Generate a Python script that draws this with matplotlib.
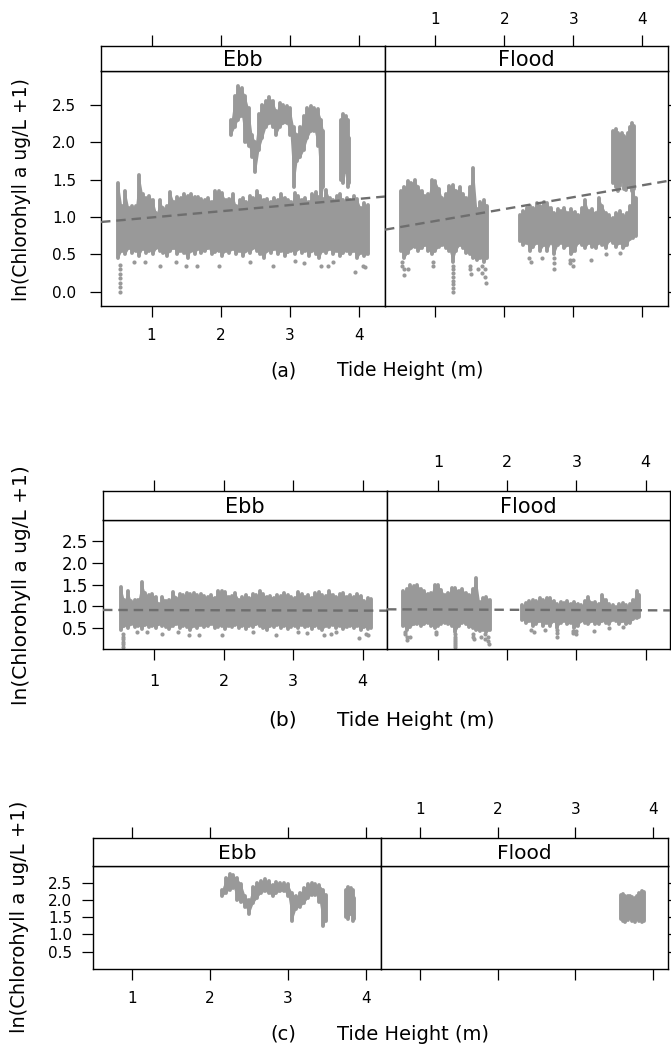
import numpy as np
import matplotlib
matplotlib.use("Agg")
import matplotlib.pyplot as plt

# ---- data ----
# ebb, low chlorophyll band (panels a and b)
ebb_low_x = [0.52, 0.57, 0.62, 0.67, 0.72, 0.77, 0.82, 0.87, 0.92, 0.97,
             1.02, 1.07, 1.12, 1.17, 1.22, 1.27, 1.32, 1.37, 1.42, 1.47,
             1.52, 1.57, 1.62, 1.67, 1.72, 1.77, 1.82, 1.87, 1.92, 1.97,
             2.02, 2.07, 2.12, 2.17, 2.22, 2.27, 2.32, 2.37, 2.42, 2.47,
             2.52, 2.57, 2.62, 2.67, 2.72, 2.77, 2.82, 2.87, 2.92, 2.97,
             3.02, 3.07, 3.12, 3.17, 3.22, 3.27, 3.32, 3.37, 3.42, 3.47,
             3.52, 3.57, 3.62, 3.67, 3.72, 3.77, 3.82, 3.87, 3.92, 3.97,
             4.02, 4.07, 4.12]
ebb_low_hi = [1.45, 1.14, 1.34, 1.12, 1.14, 1.15, 1.56, 1.30, 1.25, 1.28,
              1.22, 1.05, 1.22, 1.12, 1.14, 1.33, 1.20, 1.27, 1.25, 1.30,
              1.28, 1.30, 1.26, 1.27, 1.24, 1.22, 1.25, 1.20, 1.35, 1.34,
              1.32, 1.22, 1.24, 1.30, 1.15, 1.22, 1.25, 1.20, 1.28, 1.25,
              1.35, 1.28, 1.22, 1.24, 1.20, 1.25, 1.23, 1.30, 1.25, 1.22,
              1.20, 1.32, 1.28, 1.22, 1.25, 1.20, 1.30, 1.33, 1.26, 1.24,
              1.36, 1.25, 1.22, 1.28, 1.30, 1.22, 1.25, 1.22, 1.28, 1.24,
              1.12, 1.18, 1.16]
ebb_low_lo = [0.45, 0.55, 0.50, 0.58, 0.52, 0.55, 0.48, 0.57, 0.52, 0.55,
              0.50, 0.58, 0.55, 0.52, 0.48, 0.55, 0.58, 0.50, 0.55, 0.52,
              0.45, 0.55, 0.50, 0.57, 0.52, 0.55, 0.58, 0.50, 0.53, 0.55,
              0.48, 0.55, 0.52, 0.57, 0.50, 0.55, 0.48, 0.55, 0.52, 0.58,
              0.55, 0.50, 0.45, 0.55, 0.52, 0.57, 0.50, 0.55, 0.48, 0.53,
              0.55, 0.50, 0.57, 0.52, 0.55, 0.48, 0.55, 0.50, 0.45, 0.55,
              0.52, 0.57, 0.50, 0.55, 0.48, 0.52, 0.55, 0.50, 0.55, 0.45,
              0.52, 0.48, 0.50]
ebb_out_x = [0.55, 0.55, 0.55, 0.55, 0.55, 0.55, 0.55, 0.75, 0.90, 1.12,
             1.35, 1.50, 1.65, 1.98, 2.42, 2.75, 3.07, 3.20, 3.45, 3.55,
             3.62, 3.94, 4.05, 4.08]
ebb_out_y = [0.36, 0.30, 0.24, 0.18, 0.12, 0.06, 0.00, 0.40, 0.40, 0.35,
             0.40, 0.34, 0.34, 0.34, 0.40, 0.34, 0.41, 0.38, 0.34, 0.35,
             0.40, 0.26, 0.35, 0.33]

# ebb, high chlorophyll episode (panels a and c), two stretches
ebb_high_x = [2.15, 2.20, 2.25, 2.30, 2.35, 2.40, 2.45, 2.50, 2.55, 2.60,
              2.65, 2.70, 2.75, 2.80, 2.85, 2.90, 2.95, 3.00, 3.05, 3.10,
              3.15, 3.20, 3.25, 3.30, 3.35, 3.40, 3.45, 3.48]
ebb_high_hi = [2.30, 2.62, 2.75, 2.72, 2.62, 2.45, 2.10, 2.00, 2.38, 2.50,
               2.55, 2.60, 2.55, 2.42, 2.52, 2.50, 2.48, 2.45, 2.20, 2.10,
               2.20, 2.35, 2.45, 2.48, 2.46, 2.44, 2.30, 2.15]
ebb_high_lo = [2.10, 2.20, 2.30, 2.35, 2.00, 1.95, 1.80, 1.60, 1.90, 2.05,
               2.20, 2.25, 2.20, 2.10, 2.20, 2.25, 2.25, 2.10, 1.40, 1.75,
               1.80, 1.90, 2.05, 2.15, 2.15, 1.95, 1.25, 1.40]
ebb_high2_x = [3.74, 3.77, 3.80, 3.83, 3.85]
ebb_high2_hi = [2.30, 2.38, 2.35, 2.30, 2.05]
ebb_high2_lo = [1.50, 1.45, 1.60, 1.40, 1.45]

# flood, low band, first stretch
fl1_x = [0.50, 0.55, 0.60, 0.65, 0.70, 0.75, 0.80, 0.85, 0.90, 0.95,
         1.00, 1.05, 1.10, 1.15, 1.20, 1.25, 1.30, 1.35, 1.40, 1.45,
         1.50, 1.55, 1.60, 1.65, 1.70, 1.75]
fl1_hi = [1.35, 1.40, 1.48, 1.46, 1.50, 1.40, 1.35, 1.28, 1.30, 1.50,
          1.48, 1.38, 1.25, 1.30, 1.42, 1.43, 1.35, 1.40, 1.30, 1.25,
          1.40, 1.65, 1.10, 1.20, 1.22, 1.15]
fl1_lo = [0.55, 0.45, 0.52, 0.58, 0.60, 0.55, 0.58, 0.62, 0.55, 0.50,
          0.55, 0.60, 0.62, 0.58, 0.55, 0.40, 0.55, 0.62, 0.58, 0.52,
          0.50, 0.45, 0.42, 0.45, 0.40, 0.45]
# flood, low band, second stretch
fl2_x = [2.22, 2.27, 2.32, 2.37, 2.42, 2.47, 2.52, 2.57, 2.62, 2.67,
         2.72, 2.77, 2.82, 2.87, 2.92, 2.97, 3.02, 3.07, 3.12, 3.17,
         3.22, 3.27, 3.32, 3.37, 3.42, 3.47, 3.52, 3.57, 3.62, 3.67,
         3.72, 3.77, 3.82, 3.87, 3.90]
fl2_hi = [1.02, 1.08, 1.12, 1.15, 1.12, 1.18, 1.15, 1.20, 1.18, 1.12,
          1.05, 1.10, 1.08, 1.12, 1.05, 1.10, 1.06, 1.02, 1.12, 1.22,
          1.08, 1.10, 1.05, 1.25, 1.15, 1.05, 1.02, 0.98, 1.05, 1.08,
          1.02, 1.05, 1.15, 1.35, 1.25]
fl2_lo = [0.68, 0.62, 0.65, 0.55, 0.60, 0.65, 0.55, 0.62, 0.55, 0.65,
          0.50, 0.62, 0.65, 0.58, 0.62, 0.50, 0.55, 0.65, 0.62, 0.58,
          0.65, 0.60, 0.58, 0.65, 0.62, 0.58, 0.68, 0.65, 0.60, 0.65,
          0.58, 0.62, 0.70, 0.72, 0.75]
fl_out_x = [0.52, 0.52, 0.55, 0.55, 0.60, 0.97, 0.97, 1.25, 1.25, 1.25,
            1.25, 1.25, 1.25, 1.25, 1.25, 1.50, 1.50, 1.52, 1.62, 1.68,
            1.68, 1.72, 1.72, 1.74,
            2.35, 2.38, 2.55, 2.72, 2.72, 2.72, 2.95, 2.95, 3.00, 3.00,
            3.25, 3.47, 3.67]
fl_out_y = [0.40, 0.35, 0.30, 0.22, 0.30, 0.40, 0.35, 0.35, 0.30, 0.25,
            0.20, 0.15, 0.10, 0.05, 0.00, 0.35, 0.30, 0.24, 0.30, 0.35,
            0.25, 0.30, 0.20, 0.12,
            0.45, 0.40, 0.45, 0.45, 0.38, 0.30, 0.42, 0.38, 0.42, 0.35,
            0.42, 0.50, 0.52]

# flood, high chlorophyll episode (panels a and c)
fl_high_x = [3.58, 3.61, 3.64, 3.67, 3.70, 3.73, 3.76, 3.79, 3.82, 3.85, 3.88]
fl_high_hi = [2.15, 2.17, 2.12, 2.10, 2.12, 2.08, 2.05, 2.12, 2.20, 2.25, 2.22]
fl_high_lo = [1.45, 1.40, 1.35, 1.42, 1.48, 1.38, 1.36, 1.45, 1.40, 1.35, 1.38]

# fitted lines (intercept, slope)
fit_a = {"Ebb": (0.91, 0.083), "Flood": (0.787, 0.159)}
fit_b = {"Ebb": (0.915, -0.004), "Flood": (0.93, -0.006)}

x_ticks = [1, 2, 3, 4]
y_ticks_a = [0.0, 0.5, 1.0, 1.5, 2.0, 2.5]
y_ticks_bc = [0.5, 1.0, 1.5, 2.0, 2.5]

PT = "#999999"
LN = "#6e6e6e"

W, H = 671, 1046
fig = plt.figure(figsize=(W / 100, H / 100), dpi=100)


def px_axes(x0, y0, x1, y1):
    return fig.add_axes([x0 / W, 1 - y1 / H, (x1 - x0) / W, (y1 - y0) / H])


def band(ax, x, lo, hi):
    # solid body plus round-capped strokes for the ragged edges
    ax.fill_between(x, lo, hi, color=PT, lw=0, zorder=2)
    ax.vlines(x, lo, hi, colors=PT, lw=2.8, capstyle="round", zorder=2)


rows = [
    dict(tag="(a)", x0=101, xm=385, x1=668, ys=46, yp=71, yb=306,
         xlim=(0.27, 4.37), ylim=(-0.19, 2.95), yt=y_ticks_a,
         ylab=(22, 190), xlab=371, tfs=11, yfs=11, sfs=15, lfs=13.5,
         ypad=10, bpad=8, tpad=5.5),
    dict(tag="(b)", x0=103, xm=387, x1=670, ys=491, yp=520, yb=649,
         xlim=(0.264, 4.35), ylim=(0.015, 2.985), yt=y_ticks_bc,
         ylab=(22, 585), xlab=720, tfs=11.5, yfs=12, sfs=15, lfs=14.5,
         ypad=3, bpad=10, tpad=7),
    dict(tag="(c)", x0=93, xm=381, x1=668, ys=838, yp=866, yb=969,
         xlim=(0.5, 4.19), ylim=(0.0, 2.98), yt=y_ticks_bc,
         ylab=(20, 917), xlab=1034, tfs=11, yfs=11, sfs=14.5, lfs=14,
         ypad=7, bpad=8, tpad=7),
]

for i, r in enumerate(rows):
    for side, (a0, a1) in zip(["Ebb", "Flood"], [(r["x0"], r["xm"]), (r["xm"], r["x1"])]):
        ax = px_axes(a0, r["yp"], a1, r["yb"])
        st = px_axes(a0, r["ys"], a1, r["yp"])
        for a in (ax, st):
            a.set_xlim(*r["xlim"])
            for s in a.spines.values():
                s.set_linewidth(1.0)
        ax.set_ylim(*r["ylim"])

        # strip
        st.set_ylim(0, 1)
        st.set_yticks([])
        st.text(0.5, 0.45, side, transform=st.transAxes, ha="center",
                va="center", fontsize=r["sfs"])
        st.xaxis.tick_top()
        st.set_xticks(x_ticks)
        st.tick_params(axis="x", direction="out", length=8, width=0.9,
                       pad=r["tpad"], labelsize=r["tfs"],
                       labeltop=(side == "Flood"))

        # panel
        ax.set_xticks(x_ticks)
        ax.tick_params(axis="x", direction="out", length=8, width=0.9,
                       pad=r["bpad"], labelsize=r["tfs"],
                       labelbottom=(side == "Ebb"))
        ax.set_yticks(r["yt"])
        ax.set_yticklabels(["%.1f" % v for v in r["yt"]])
        if side == "Ebb":
            ax.tick_params(axis="y", direction="out", length=8, width=0.9,
                           pad=r["ypad"], labelsize=r["yfs"])
        else:
            ax.yaxis.tick_right()
            ax.tick_params(axis="y", direction="out", length=8, width=0.9,
                           labelright=False)

        # data
        if i in (0, 1):
            if side == "Ebb":
                band(ax, ebb_low_x, ebb_low_lo, ebb_low_hi)
                ax.scatter(ebb_out_x, ebb_out_y, s=9, c=PT, lw=0, zorder=2)
            else:
                band(ax, fl1_x, fl1_lo, fl1_hi)
                band(ax, fl2_x, fl2_lo, fl2_hi)
                ax.scatter(fl_out_x, fl_out_y, s=9, c=PT, lw=0, zorder=2)
        if i in (0, 2):
            if side == "Ebb":
                band(ax, ebb_high_x, ebb_high_lo, ebb_high_hi)
                band(ax, ebb_high2_x, ebb_high2_lo, ebb_high2_hi)
            else:
                band(ax, fl_high_x, fl_high_lo, fl_high_hi)
        if i in (0, 1):
            b0, b1 = (fit_a if i == 0 else fit_b)[side]
            xx = np.array(r["xlim"])
            ax.plot(xx, b0 + b1 * xx, color=LN, lw=1.7, dashes=(4, 2.5),
                    zorder=3)

    fig.text(r["ylab"][0] / W, 1 - r["ylab"][1] / H,
             "ln(Chlorohyll a ug/L +1)", rotation=90, ha="center",
             va="center", fontsize=r["lfs"])
    fig.text(283 / W, 1 - r["xlab"] / H, r["tag"], ha="center",
             va="center", fontsize=r["lfs"])
    fig.text(337 / W, 1 - r["xlab"] / H, "Tide Height (m)", ha="left",
             va="center", fontsize=r["lfs"])

fig.savefig("out.png", dpi=100)
